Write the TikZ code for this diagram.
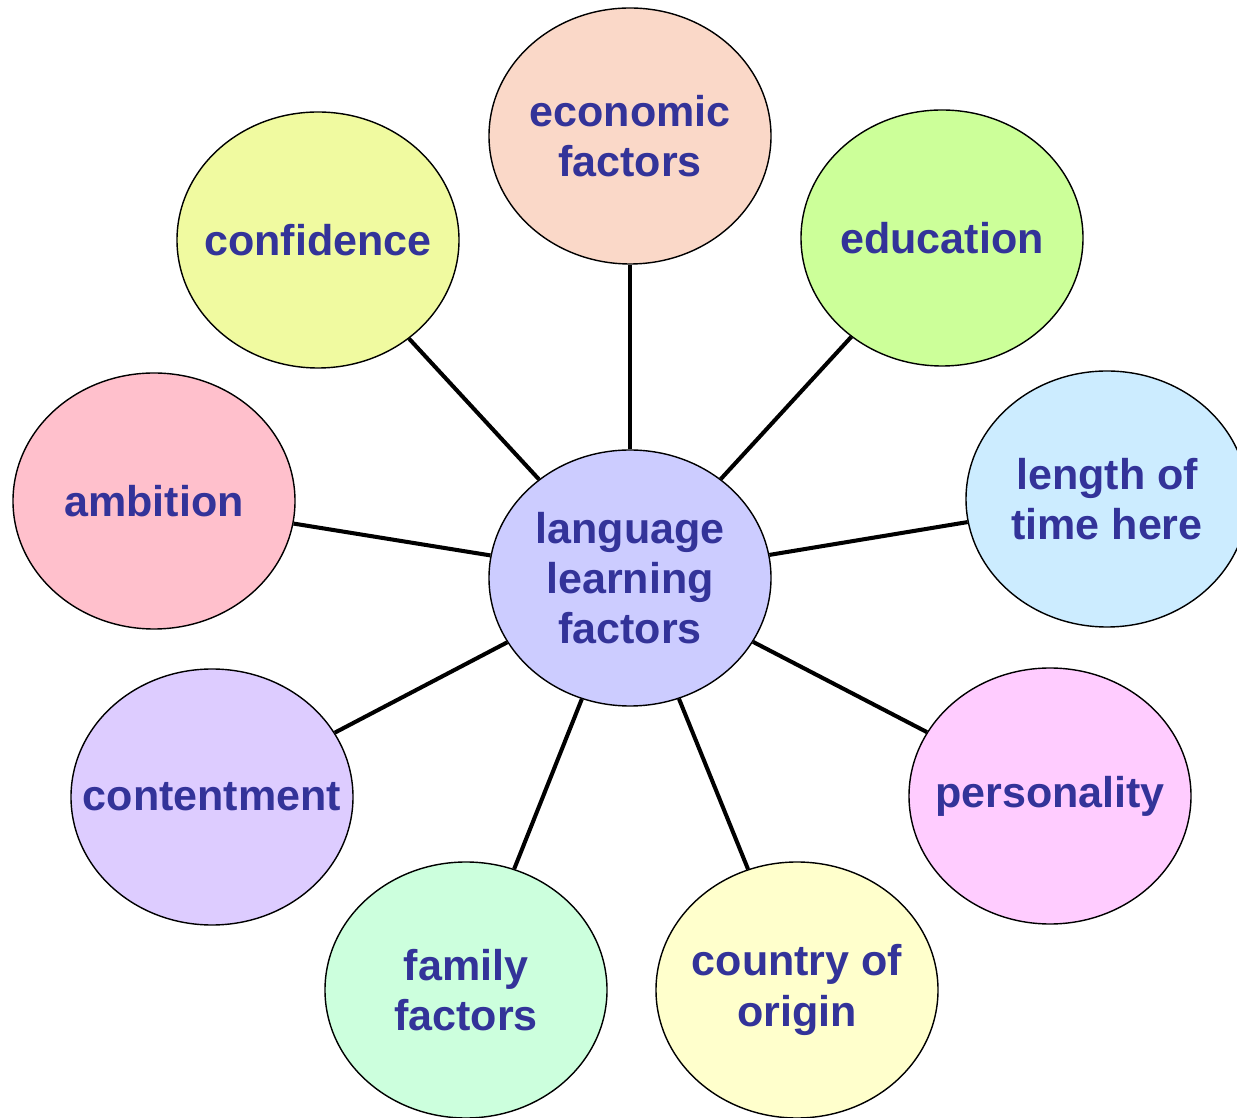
\documentclass[tikz,border=0pt]{standalone}
\usepackage{fontspec}
\setmainfont{Liberation Sans}
\usepackage{xcolor}
\usepackage{tikz}
\usetikzlibrary{shapes.geometric}

\definecolor{textblue}{HTML}{333399}
\definecolor{hubfill}{HTML}{CCCCFF}
\definecolor{econfill}{HTML}{FAD8C8}
\definecolor{educfill}{HTML}{CCFF99}
\definecolor{conffill}{HTML}{F0FAA0}
\definecolor{ambifill}{HTML}{FFC0CC}
\definecolor{timefill}{HTML}{CCECFF}
\definecolor{contfill}{HTML}{DDCCFF}
\definecolor{persfill}{HTML}{FFCCFF}
\definecolor{famfill}{HTML}{CCFFDD}
\definecolor{ctryfill}{HTML}{FFFFCC}

\begin{document}
\begin{tikzpicture}[
    bubble/.style={ellipse, draw=black, line width=0.8pt, minimum width=5.64cm, minimum height=5.12cm, inner sep=0pt},
    lbl/.style={align=center, text=textblue, font=\fontsize{24.5}{28.5}\selectfont\bfseries},
    spoke/.style={line width=2.3pt, black}
]
\useasboundingbox (0,0) rectangle (24.74,22.34);

\node[bubble, fill=econfill, label={[lbl]center:economic\\factors}] (econ) at (12.60,19.62) {};
\node[bubble, fill=educfill, label={[lbl]center:education}] (educ) at (18.84,17.58) {};
\node[bubble, fill=conffill, label={[lbl]center:confidence}] (conf) at (6.36,17.54) {};
\node[bubble, fill=ambifill, label={[lbl]center:ambition}] (ambi) at (3.08,12.32) {};
\node[bubble, fill=timefill, label={[lbl]center:length of\\time here}] (time) at (22.14,12.36) {};
\node[bubble, fill=contfill, label={[lbl]center:contentment}] (cont) at (4.24,6.40) {};
\node[bubble, fill=persfill, label={[lbl]center:personality}] (pers) at (21.00,6.42) {};
\node[bubble, fill=famfill, label={[lbl]center:family\\factors}] (fam) at (9.32,2.54) {};
\node[bubble, fill=ctryfill, label={[lbl]center:country of\\origin}] (ctry) at (15.94,2.54) {};

\node[bubble, fill=hubfill, label={[lbl]center:language\\learning\\factors}] (hub) at (12.60,10.78) {};

\foreach \n in {econ, educ, conf, ambi, time, cont, pers, fam, ctry}
    \draw[spoke] (hub) -- (\n);

\end{tikzpicture}
\end{document}
